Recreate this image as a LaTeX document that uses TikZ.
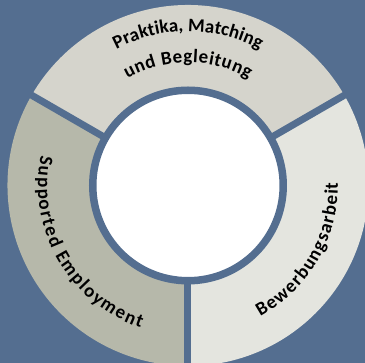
\documentclass[tikz,border=0pt]{standalone}
\usepackage{fontspec}
\usetikzlibrary{decorations.text}
\newfontfamily\carlito{Carlito}
\newcommand\seglabel{\carlito\bfseries\fontsize{19pt}{22pt}\selectfont}
\definecolor{bgblue}{RGB}{84,110,144}
\definecolor{topgray}{RGB}{213,212,204}
\definecolor{leftgray}{RGB}{182,184,170}
\definecolor{rightgray}{RGB}{228,229,223}
\tikzset{
  sepline/.style={draw=bgblue, line width=7pt},
  arctext/.style 2 args={decorate, decoration={text effects along path, text align=center, text={#1},
    text effects/.cd, characters={text along path, font=\seglabel, inner sep=0pt, inner xsep=#2},
    character widths={font=\seglabel, inner sep=0pt, inner xsep=#2}}}
}
\begin{document}
\begin{tikzpicture}
            \fill[bgblue] (-188pt,-177.5pt) rectangle (177pt,185.5pt);
            \useasboundingbox (-188pt,-177.5pt) rectangle (177pt,185.5pt);
            \coordinate (ctr) at (0,0);

            \fill[topgray] (ctr) -- (30:180.5pt) arc[start angle=30, end angle=150, radius=180.5pt] -- cycle;
            \fill[leftgray] (ctr) -- (150:180.5pt) arc[start angle=150, end angle=270, radius=180.5pt] -- cycle;
            \fill[rightgray] (ctr) -- (270:180.5pt) arc[start angle=270, end angle=390, radius=180.5pt] -- cycle;

            \draw[sepline] (ctr) -- (30:185pt);
            \draw[sepline] (ctr) -- (150:185pt);
            \draw[sepline] (ctr) -- (270:185pt);

            \node (hub) [circle, fill=white, draw=bgblue, line width=7.5pt, minimum size=190.5pt, inner sep=0pt] at (ctr) {};

            \path[arctext={Praktika, Matching}{0pt}] (150:154pt) arc[start angle=150, end angle=30, radius=154pt];
            \path[arctext={und Begleitung}{0.3pt}] (150:123pt) arc[start angle=150, end angle=30, radius=123pt];
            \path[arctext={Supported Employment}{0.8pt}] (150:150pt) arc[start angle=150, end angle=270, radius=150pt];
            \path[arctext={Bewerbungsarbeit}{0.6pt}] (270:150pt) arc[start angle=270, end angle=390, radius=150pt];
        \end{tikzpicture}
\end{document}
